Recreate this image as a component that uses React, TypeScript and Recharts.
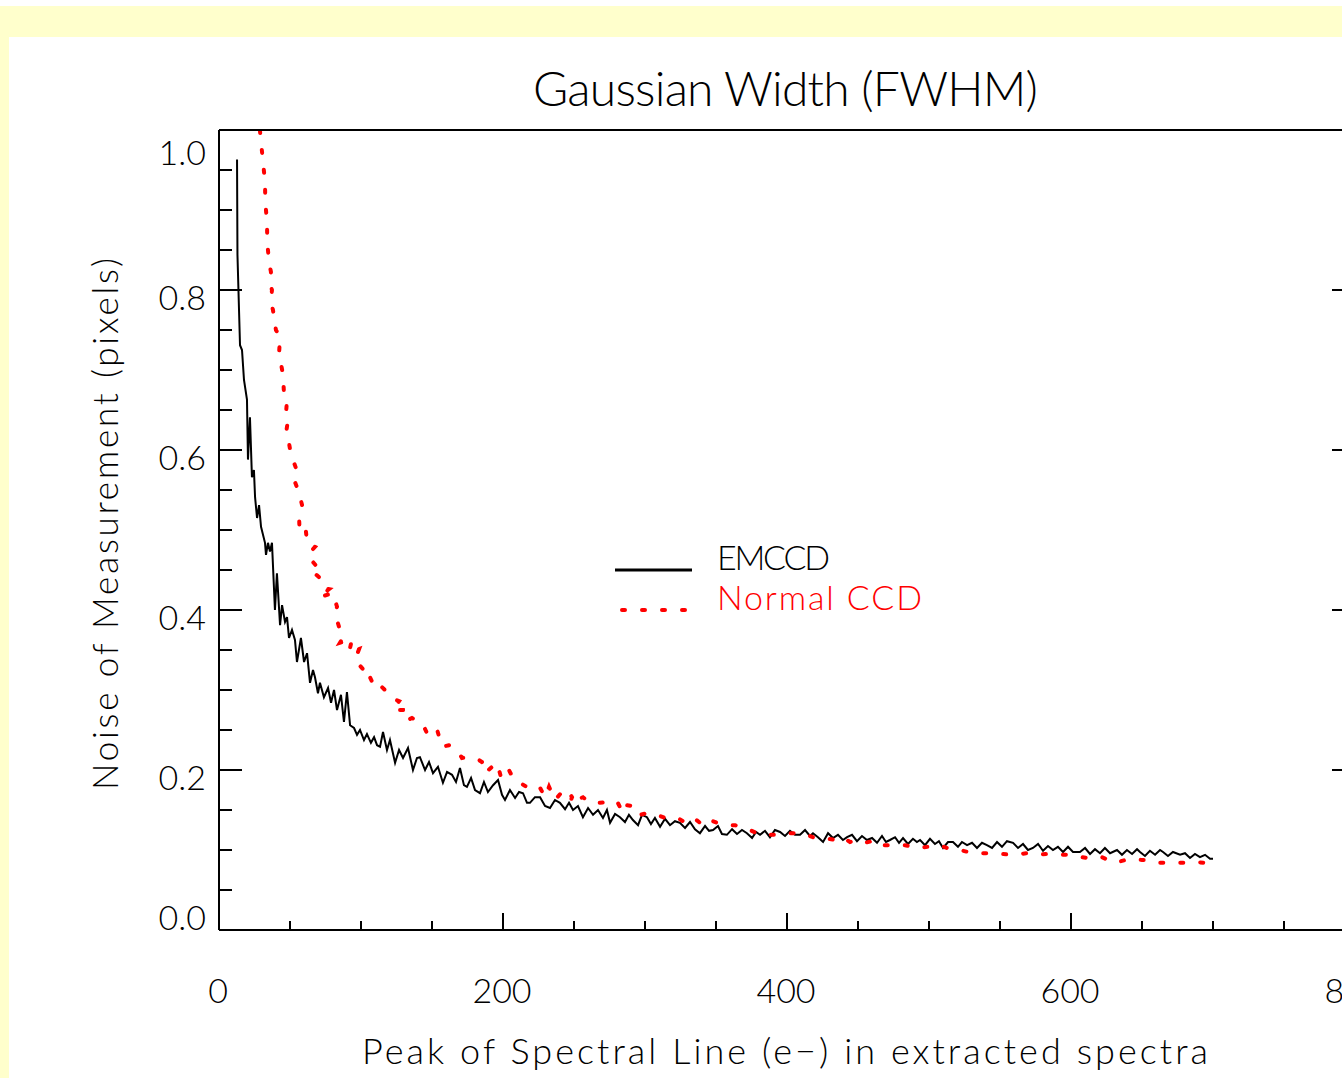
import { LineChart, Line, XAxis, YAxis, Legend } from 'recharts';

// [peak e-, noise px]
const emccd: [number, number][] = [
  [12.7, 0.963], [13.0, 0.844], [14.8, 0.731], [16.2, 0.725], [17.6, 0.6875], [19.7, 0.663], [20.4, 0.588],
  [21.8, 0.641], [23.2, 0.566], [24.6, 0.575], [25.4, 0.541], [26.8, 0.515], [28.2, 0.531], [29.6, 0.504],
  [32.4, 0.484], [33.1, 0.469], [34.5, 0.484], [35.9, 0.473], [37.3, 0.484], [39.4, 0.4], [40.8, 0.446],
  [43.0, 0.381], [44.4, 0.406], [46.5, 0.385], [47.9, 0.391], [49.3, 0.365], [51.4, 0.375], [53.5, 0.3625],
  [54.9, 0.335], [57.7, 0.365], [59.9, 0.335], [62.0, 0.346], [64.1, 0.309], [66.2, 0.325], [67.6, 0.316],
  [69.7, 0.296], [71.1, 0.309], [73.9, 0.291], [76.8, 0.3025], [78.9, 0.284], [81.0, 0.3], [83.1, 0.275],
  [85.9, 0.294], [88.0, 0.26], [90.1, 0.2975], [92.3, 0.256], [95.1, 0.2525], [97.2, 0.244], [99.3, 0.25],
  [102.1, 0.2375], [104.2, 0.245], [107.0, 0.234], [109.2, 0.241], [111.3, 0.231], [113.4, 0.229],
  [115.5, 0.2475], [118.3, 0.225], [120.4, 0.2375], [124.0, 0.209], [126.8, 0.225], [129.6, 0.215],
  [133.1, 0.2275], [136.6, 0.2], [139.4, 0.215], [141.5, 0.216], [145.1, 0.2], [147.9, 0.21], [150.7, 0.196],
  [154.2, 0.204], [157.7, 0.184], [160.6, 0.1975], [164.1, 0.194], [166.9, 0.185], [169.7, 0.2025],
  [172.5, 0.181], [174.6, 0.179], [177.5, 0.19], [180.3, 0.175], [183.8, 0.171], [186.6, 0.185],
  [189.4, 0.1725], [193.0, 0.181], [196.5, 0.1875], [199.3, 0.169], [201.4, 0.1625], [204.9, 0.175],
  [208.5, 0.165], [211.3, 0.1725], [214.1, 0.171], [216.9, 0.159], [219.0, 0.159], [222.5, 0.166],
  [226.1, 0.166], [229.6, 0.155], [233.1, 0.1525], [236.6, 0.1625], [240.1, 0.159], [243.7, 0.151],
  [246.5, 0.159], [249.3, 0.15], [252.8, 0.155], [256.3, 0.141], [259.9, 0.1525], [263.4, 0.144],
  [266.9, 0.15], [270.4, 0.14], [273.2, 0.15], [275.4, 0.134], [278.9, 0.145], [282.4, 0.141],
  [285.9, 0.135], [288.7, 0.144], [291.5, 0.1375], [295.1, 0.131], [297.9, 0.144], [301.4, 0.141],
  [304.2, 0.1325], [307.0, 0.14], [310.6, 0.129], [314.1, 0.139], [317.6, 0.131], [321.1, 0.136],
  [324.6, 0.134], [328.2, 0.1275], [331.7, 0.135], [335.2, 0.126], [338.7, 0.121], [342.3, 0.13],
  [345.1, 0.124], [347.9, 0.125], [351.4, 0.13], [354.2, 0.12], [357.7, 0.119], [361.3, 0.126],
  [364.8, 0.12], [368.3, 0.125], [371.8, 0.121], [375.4, 0.115], [378.2, 0.1225], [381.0, 0.119],
  [384.5, 0.124], [388.0, 0.116], [391.5, 0.125], [395.1, 0.1225], [398.6, 0.1175], [402.1, 0.124],
  [405.6, 0.119], [409.2, 0.119], [412.7, 0.125], [416.2, 0.1175], [418.3, 0.121], [421.8, 0.116],
  [425.4, 0.11], [428.9, 0.121], [432.4, 0.115], [435.9, 0.119], [439.4, 0.1125], [442.3, 0.116],
  [445.8, 0.119], [449.3, 0.111], [452.8, 0.1175], [456.3, 0.1125], [459.9, 0.115], [463.4, 0.109],
  [466.9, 0.1175], [469.7, 0.11], [472.5, 0.1125], [476.1, 0.116], [478.9, 0.109], [481.7, 0.115],
  [485.2, 0.1075], [488.7, 0.114], [491.5, 0.11], [493.7, 0.1125], [497.2, 0.106], [500.7, 0.114],
  [504.2, 0.1075], [507.0, 0.111], [509.9, 0.1025], [513.4, 0.11], [516.9, 0.11], [520.4, 0.104],
  [523.2, 0.11], [526.8, 0.106], [530.3, 0.109], [533.8, 0.1025], [537.3, 0.109], [540.8, 0.106],
  [544.4, 0.1025], [547.9, 0.11], [551.4, 0.104], [554.9, 0.111], [559.2, 0.109], [562.7, 0.1025],
  [566.2, 0.1075], [569.7, 0.1], [573.2, 0.1025], [576.8, 0.1075], [580.3, 0.099], [583.8, 0.105],
  [587.3, 0.1], [590.8, 0.104], [594.4, 0.0975], [597.9, 0.104], [601.4, 0.0975], [606.3, 0.0975],
  [609.9, 0.1025], [613.4, 0.095], [616.9, 0.101], [620.4, 0.096], [623.9, 0.1025], [627.5, 0.096],
  [632.4, 0.1], [635.9, 0.094], [639.4, 0.1], [643.0, 0.095], [646.5, 0.101], [648.6, 0.0975],
  [652.1, 0.0925], [655.6, 0.099], [659.2, 0.094], [662.7, 0.1], [664.8, 0.0975], [668.3, 0.0925],
  [671.8, 0.0975], [676.8, 0.094], [680.3, 0.096], [683.8, 0.09], [687.3, 0.095], [690.8, 0.091],
  [694.4, 0.094], [697.9, 0.089], [700.0, 0.089],
];

const normalCcd: [number, number][] = [
  [28.8, 1.0], [29.6, 0.985], [31.0, 0.96], [32.4, 0.935], [32.6, 0.91], [33.8, 0.885], [34.0, 0.86],
  [35.2, 0.835], [36.6, 0.8225], [35.6, 0.81], [37.3, 0.8], [36.6, 0.785], [38.0, 0.775], [40.1, 0.75],
  [43.0, 0.741], [42.3, 0.721], [45.1, 0.694], [45.8, 0.669], [47.9, 0.6625], [47.2, 0.646], [48.6, 0.6375],
  [47.2, 0.621], [48.6, 0.616], [50.7, 0.594], [54.2, 0.5775], [52.1, 0.566], [56.3, 0.5475], [58.5, 0.531],
  [56.3, 0.521], [56.6, 0.506], [60.6, 0.51], [62.0, 0.484], [67.6, 0.479], [62.7, 0.469], [66.2, 0.46],
  [69.0, 0.454], [64.8, 0.45], [70.4, 0.441], [73.2, 0.4275], [77.5, 0.426], [70.4, 0.416], [80.3, 0.421],
  [83.1, 0.404], [81.7, 0.396], [84.5, 0.379], [88.0, 0.3675], [85.2, 0.359], [93.7, 0.364], [91.5, 0.346],
  [98.6, 0.351], [95.8, 0.3375], [101.4, 0.326], [101.6, 0.315], [106.3, 0.316], [109.9, 0.3025],
  [113.4, 0.306], [118.3, 0.2975], [121.8, 0.29], [126.8, 0.286], [122.5, 0.275], [129.6, 0.275],
  [131.0, 0.261], [135.9, 0.265], [140.1, 0.261], [143.0, 0.259], [146.5, 0.246], [150.0, 0.244],
  [153.5, 0.251], [157.0, 0.229], [162.0, 0.231], [167.6, 0.225], [171.1, 0.215], [175.4, 0.216],
  [181.7, 0.214], [185.2, 0.21], [187.3, 0.196], [192.3, 0.204], [195.8, 0.209], [198.6, 0.191],
  [203.5, 0.2025], [207.0, 0.19], [215.5, 0.18], [221.1, 0.1775], [225.4, 0.18], [229.6, 0.166],
  [232.4, 0.179], [236.6, 0.1625], [241.5, 0.1725], [245.1, 0.176], [248.6, 0.166], [247.2, 0.159],
  [256.3, 0.166], [261.3, 0.159], [268.3, 0.159], [275.4, 0.16], [280.3, 0.161], [284.5, 0.146],
  [287.3, 0.156], [294.4, 0.154], [296.5, 0.144], [301.4, 0.146], [307.0, 0.145], [314.1, 0.14],
  [317.6, 0.141], [323.2, 0.14], [327.5, 0.135], [333.8, 0.141], [340.8, 0.131], [345.8, 0.1375],
  [350.7, 0.134], [357.7, 0.131], [363.4, 0.131], [373.9, 0.125], [381.0, 0.119], [386.6, 0.119],
  [393.0, 0.119], [397.2, 0.121], [404.2, 0.121], [411.3, 0.121], [418.3, 0.116], [426.8, 0.115],
  [433.8, 0.1125], [438.7, 0.116], [444.4, 0.11], [450.0, 0.1125], [454.9, 0.109], [463.4, 0.1125],
  [467.6, 0.106], [474.6, 0.106], [483.1, 0.106], [491.5, 0.1025], [499.3, 0.104], [507.7, 0.106],
  [512.7, 0.1025], [521.8, 0.1], [527.5, 0.0975], [534.5, 0.096], [544.4, 0.096], [559.2, 0.094],
  [569.0, 0.096], [576.8, 0.094], [583.1, 0.095], [590.8, 0.094], [599.3, 0.094], [607.7, 0.091],
  [614.8, 0.089], [621.8, 0.091], [631.0, 0.084], [641.5, 0.089], [650.0, 0.0875], [655.6, 0.0875],
  [662.7, 0.084], [671.1, 0.084], [680.3, 0.084], [685.9, 0.085], [694.4, 0.084], [696.5, 0.085],
];

const xTicks = [0, 50, 100, 150, 200, 250, 300, 350, 400, 450, 500, 550, 600, 650, 700, 750, 800];
const xMajor = [0, 200, 400, 600, 800];
const yTicks = [0, 0.05, 0.1, 0.15, 0.2, 0.25, 0.3, 0.35, 0.4, 0.45, 0.5, 0.55, 0.6, 0.65, 0.7, 0.75, 0.8, 0.85, 0.9, 0.95, 1.0];
const yMajor = [0, 0.2, 0.4, 0.6, 0.8, 1.0];

const FONT = 'Lato, "DejaVu Sans", sans-serif';
const W = 300;

const isYMajor = (v: number) => yMajor.some((m) => Math.abs(m - v) < 1e-6);

// IDL style: ticks point into the plot box
function BottomTick({ payload, plotBottom }: any) {
  const v = payload.value;
  const x = payload.coordinate;
  const major = xMajor.includes(v);
  return (
    <g>
      <line x1={x} y1={plotBottom} x2={x} y2={plotBottom - (major ? 17 : 9)} stroke="#000" strokeWidth={2} />
      {major && (
        <text x={x - 1} y={plotBottom + 73} textAnchor="middle" fontFamily={FONT} fontWeight={W} fontSize={34} fill="#000">
          {v}
        </text>
      )}
    </g>
  );
}

function TopTick({ payload, plotTop }: any) {
  const x = payload.coordinate;
  const major = xMajor.includes(payload.value);
  return <line x1={x} y1={plotTop} x2={x} y2={plotTop + (major ? 17 : 9)} stroke="#000" strokeWidth={2} />;
}

function LeftTick({ payload, plotLeft }: any) {
  const v = payload.value;
  const y = payload.coordinate;
  const major = isYMajor(v);
  const dy = v < 0.01 ? 0 : v > 0.99 ? 35 : 20;
  return (
    <g>
      <line x1={plotLeft} y1={y} x2={plotLeft + (major ? 23 : 13)} y2={y} stroke="#000" strokeWidth={2} />
      {major && (
        <text x={plotLeft - 13} y={y + dy} textAnchor="end" fontFamily={FONT} fontWeight={W} fontSize={34} fill="#000">
          {v.toFixed(1)}
        </text>
      )}
    </g>
  );
}

function RightTick({ payload, plotRight }: any) {
  const y = payload.coordinate;
  const major = isYMajor(payload.value);
  return <line x1={plotRight} y1={y} x2={plotRight - (major ? 23 : 13)} y2={y} stroke="#000" strokeWidth={2} />;
}

function LegendBox() {
  return (
    <svg width={340} height={100} style={{ display: 'block' }}>
      <line x1={15} y1={40} x2={92} y2={40} stroke="#000" strokeWidth={3} />
      <text x={117} y={40} fontFamily={FONT} fontWeight={W} fontSize={34} fill="#000" textLength={113}>
        EMCCD
      </text>
      <line x1={22} y1={80} x2={90} y2={80} stroke="#ff0000" strokeWidth={4} strokeDasharray="3 17" strokeLinecap="round" />
      <text x={117} y={80} fontFamily={FONT} fontWeight={W} fontSize={34} fill="#ff0000" textLength={205}>
        Normal CCD
      </text>
    </svg>
  );
}

const CHART_W = 1400;
const CHART_H = 1078;
const MARGIN = { top: 129, right: 44, bottom: 147, left: 218 };
const PLOT = {
  top: MARGIN.top + 1,
  left: MARGIN.left + 1,
  bottom: CHART_H - MARGIN.bottom - 1,
  right: CHART_W - MARGIN.right - 1,
};

export default function App() {
  const emData = emccd.map(([x, y]) => ({ x, y }));
  const ccdData = normalCcd.map(([x, y]) => ({ x, y }));
  const axisLine = { stroke: '#000', strokeWidth: 2 };

  return (
    <div style={{ position: 'relative', width: 1342, height: 1078, overflow: 'hidden', background: '#fff' }}>
      <style>{'body{margin:0;overflow:hidden}'}</style>
      <div style={{ position: 'absolute', left: 0, top: 6, width: 1342, height: 31, background: '#ffffcc' }} />
      <div style={{ position: 'absolute', left: 0, top: 6, width: 9, height: 1072, background: '#ffffcc' }} />

      <div style={{ position: 'absolute', left: 0, top: 0 }}>
        <LineChart width={CHART_W} height={CHART_H} margin={MARGIN}>
          <XAxis
            xAxisId="bottom"
            dataKey="x"
            type="number"
            domain={[0, 800]}
            ticks={xTicks}
            interval={0}
            height={1}
            allowDataOverflow
            axisLine={axisLine}
            tickLine={false}
            tickSize={0}
            tickMargin={0}
            tick={<BottomTick plotBottom={PLOT.bottom} />}
          />
          <XAxis
            xAxisId="top"
            orientation="top"
            type="number"
            domain={[0, 800]}
            ticks={xTicks}
            interval={0}
            height={1}
            allowDataOverflow
            axisLine={axisLine}
            tickLine={false}
            tickSize={0}
            tickMargin={0}
            tick={<TopTick plotTop={PLOT.top} />}
          />
          <YAxis
            yAxisId="left"
            type="number"
            domain={[0, 1]}
            ticks={yTicks}
            interval={0}
            width={1}
            allowDataOverflow
            axisLine={axisLine}
            tickLine={false}
            tickSize={0}
            tickMargin={0}
            tick={<LeftTick plotLeft={PLOT.left} />}
          />
          <YAxis
            yAxisId="right"
            orientation="right"
            type="number"
            domain={[0, 1]}
            ticks={yTicks}
            interval={0}
            width={1}
            allowDataOverflow
            axisLine={axisLine}
            tickLine={false}
            tickSize={0}
            tickMargin={0}
            tick={<RightTick plotRight={PLOT.right} />}
          />
          <Legend
            layout="horizontal"
            verticalAlign="middle"
            align="center"
            width={340}
            wrapperStyle={{ left: 600, top: 530, width: 340, height: 100 }}
            content={<LegendBox />}
          />
          <Line
            xAxisId="bottom"
            yAxisId="left"
            data={emData}
            dataKey="y"
            type="linear"
            stroke="#000"
            strokeWidth={2}
            dot={false}
            isAnimationActive={false}
            name="EMCCD"
          />
          <Line
            xAxisId="bottom"
            yAxisId="left"
            data={ccdData}
            dataKey="y"
            type="linear"
            stroke="#ff0000"
            strokeWidth={4}
            strokeDasharray="3 17"
            strokeLinecap="round"
            dot={false}
            isAnimationActive={false}
            name="Normal CCD"
          />
        </LineChart>
      </div>

      <svg width={1342} height={1078} style={{ position: 'absolute', left: 0, top: 0, pointerEvents: 'none' }}>
        <text x={533} y={106} fontFamily={FONT} fontWeight={W} fontSize={48} fill="#000" textLength={505}>
          Gaussian Width (FWHM)
        </text>
        <text x={362} y={1064} fontFamily={FONT} fontWeight={W} fontSize={36} fill="#000" textLength={846}>
          Peak of Spectral Line (e−) in extracted spectra
        </text>
        <text
          transform="translate(118,790) rotate(-90)"
          x={0}
          y={0}
          fontFamily={FONT}
          fontWeight={W}
          fontSize={35}
          fill="#000"
          textLength={532}
        >
          Noise of Measurement (pixels)
        </text>
      </svg>
    </div>
  );
}
